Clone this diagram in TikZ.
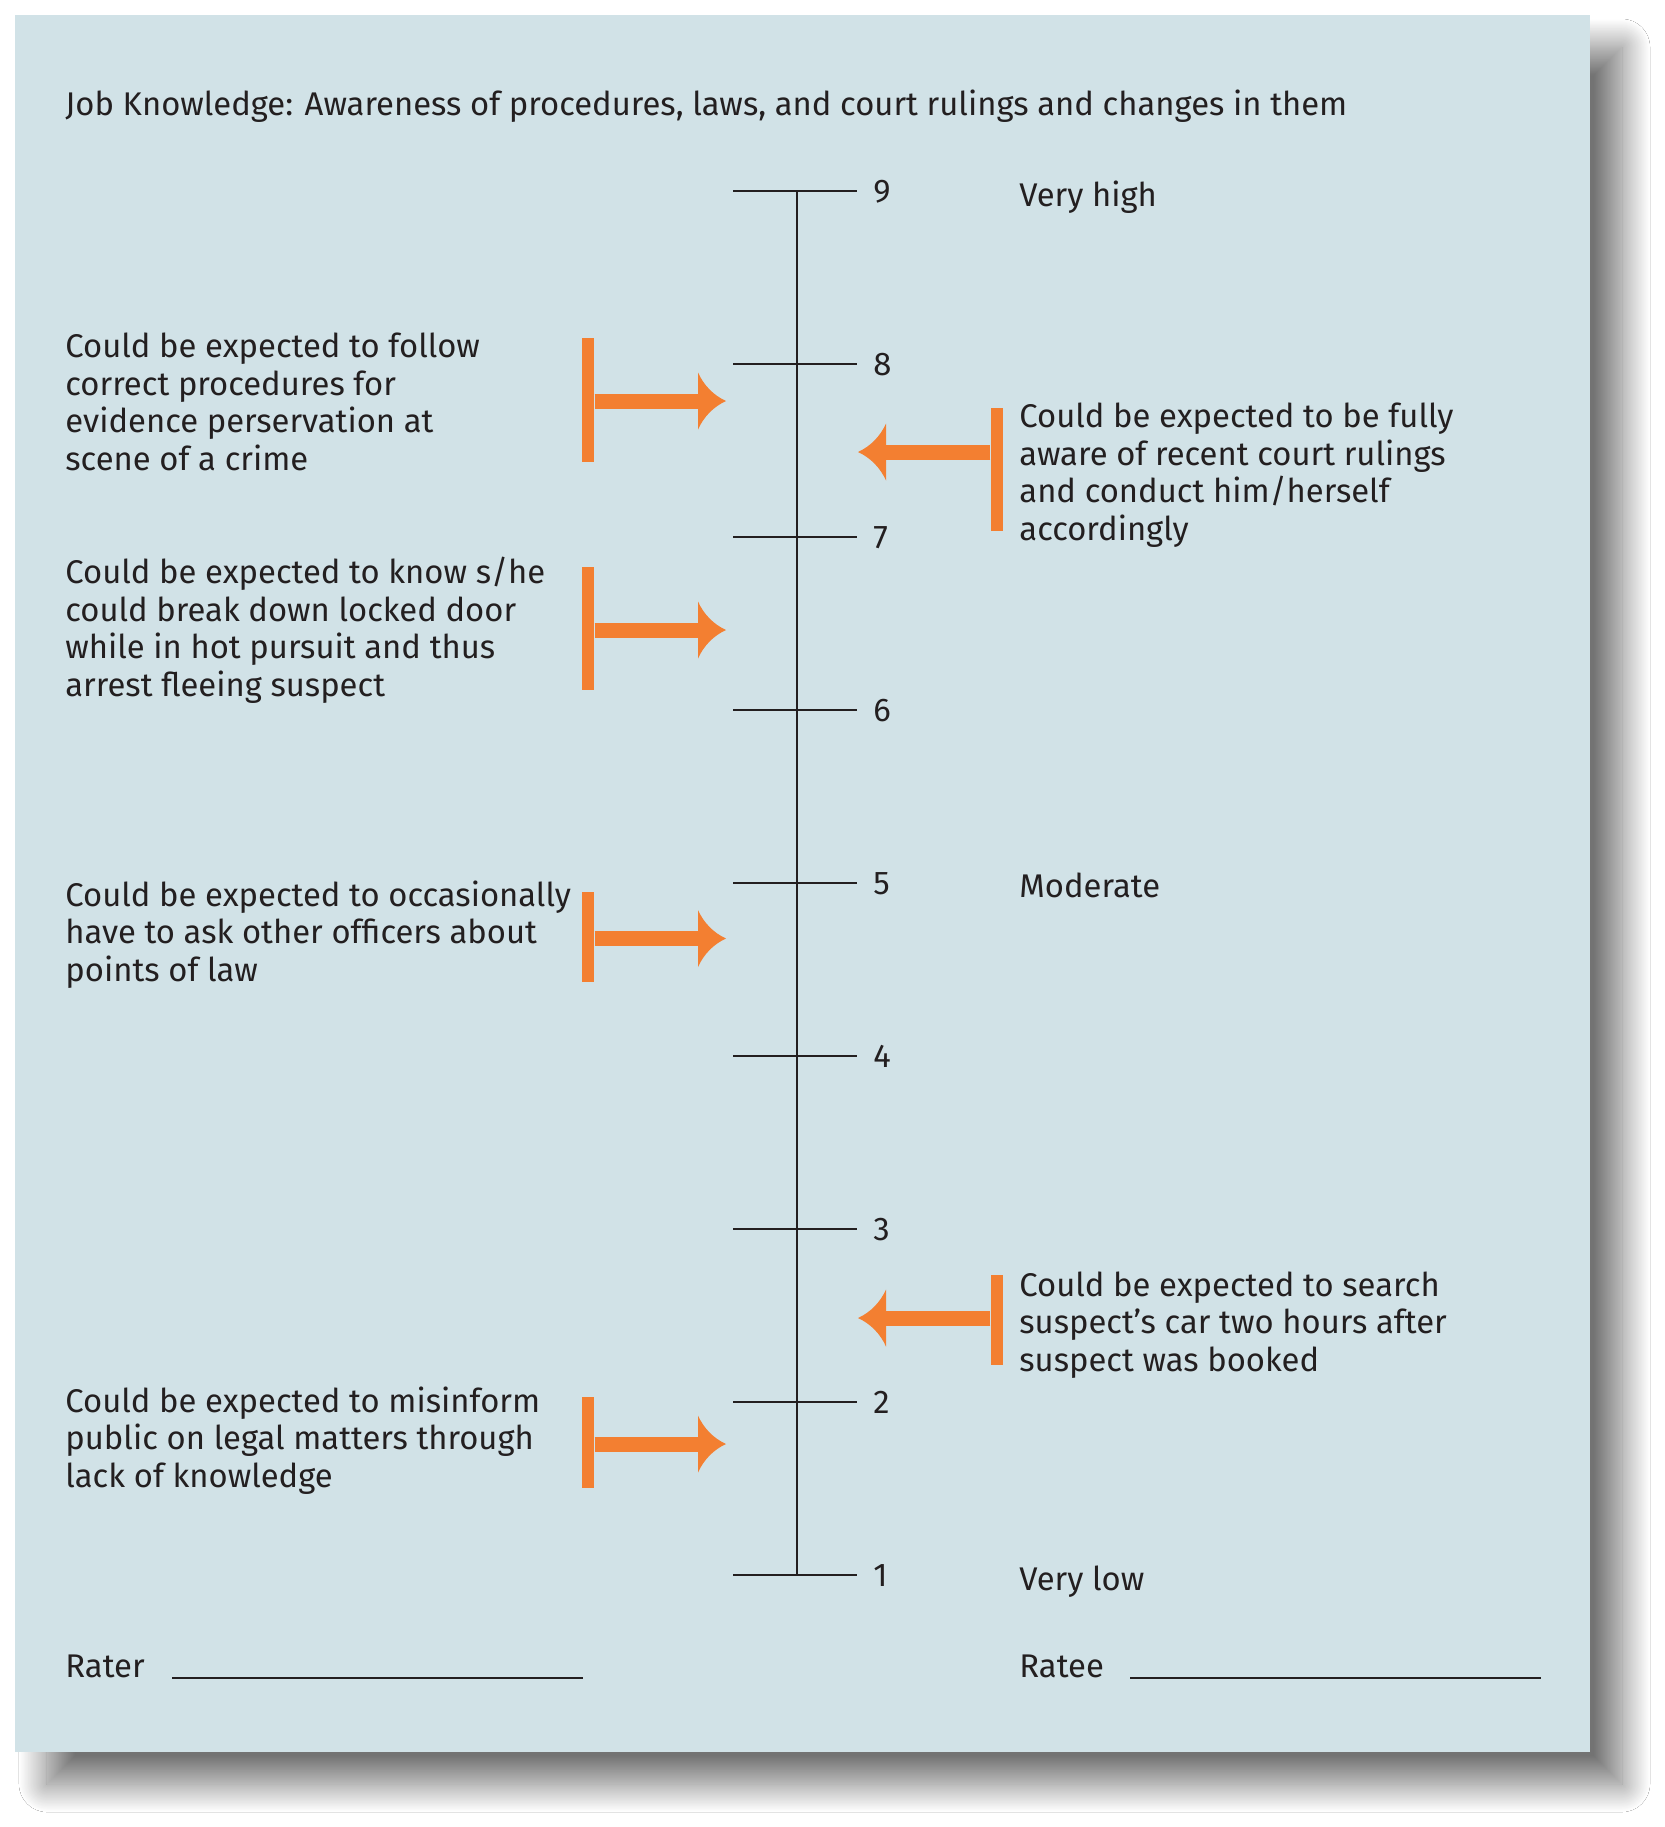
\documentclass[tikz,border=0pt]{standalone}
\usepackage{fontspec}
\setmainfont{Fira Sans}
\usetikzlibrary{arrows.meta}
\usetikzlibrary{shadows.blur}
\definecolor{panelbg}{HTML}{D1E2E7}
\definecolor{markorange}{HTML}{F37F31}
\definecolor{ink}{HTML}{231F20}
% flared arrow head
\pgfdeclarearrow{
  name = Flare,
  parameters = {\the\pgfarrowlength,\the\pgfarrowwidth},
  setup code = {
    \pgfarrowssettipend{0pt}
    \pgfarrowssetlineend{-.5\pgfarrowlength}
    \pgfarrowssetbackend{-\pgfarrowlength}
    \pgfarrowssetvisualbackend{-\pgfarrowlength}
    \pgfarrowshullpoint{0pt}{0pt}
    \pgfarrowsupperhullpoint{-\pgfarrowlength}{.5\pgfarrowwidth}
    \pgfarrowssavethe\pgfarrowlength
    \pgfarrowssavethe\pgfarrowwidth
  },
  drawing code = {
    \pgfpathmoveto{\pgfqpoint{0pt}{0pt}}
    \pgfpathcurveto{\pgfqpoint{-.45\pgfarrowlength}{.1\pgfarrowwidth}}{\pgfqpoint{-.8\pgfarrowlength}{.28\pgfarrowwidth}}{\pgfqpoint{-\pgfarrowlength}{.5\pgfarrowwidth}}
    \pgfpathlineto{\pgfqpoint{-\pgfarrowlength}{-.5\pgfarrowwidth}}
    \pgfpathcurveto{\pgfqpoint{-.8\pgfarrowlength}{-.28\pgfarrowwidth}}{\pgfqpoint{-.45\pgfarrowlength}{-.1\pgfarrowwidth}}{\pgfqpoint{0pt}{0pt}}
    \pgfpathclose
    \pgfusepathqfill
  },
  defaults = {length=14pt, width=28pt}
}
\tikzset{
    bodytext/.style = {anchor=base west, align=left, inner sep=0pt, text=ink, font=\fontsize{16.4pt}{18.7pt}\selectfont},
    scalenum/.style = {anchor=base west, inner sep=0pt, text=ink, font=\fontsize{16.4pt}{18.7pt}\selectfont},
    tickline/.style = {-, line width=1pt, ink},
    signline/.style = {-, line width=1.2pt, ink},
    tbar/.style = {rectangle, fill=markorange, inner sep=0pt, minimum width=6.25pt},
    pointer/.style = {-{Flare[length=14pt,width=28.5pt]}, line width=7.5pt, markorange}
}

\begin{document}
\begin{tikzpicture}[x=0.5pt,y=-0.5pt]
\useasboundingbox[fill=white] (0,0) rectangle (1665,1827);
\fill[panelbg, blur shadow={shadow xshift=16pt, shadow yshift=-16pt, shadow blur radius=14pt, shadow blur steps=40, shadow opacity=55}] (15,15) rectangle (1590,1752);
%
\node[bodytext] at (65,115) (title) {Job Knowledge: Awareness of procedures, laws, and court rulings and changes in them};
%
\coordinate (t9) at (797,191);
\coordinate (t1) at (797,1575);
\draw[tickline] (t9) -- (t1);
\draw[tickline] (733,191) -- (857,191);
\draw[tickline] (733,364) -- (857,364);
\draw[tickline] (733,537) -- (857,537);
\draw[tickline] (733,710) -- (857,710);
\draw[tickline] (733,883) -- (857,883);
\draw[tickline] (733,1056) -- (857,1056);
\draw[tickline] (733,1229) -- (857,1229);
\draw[tickline] (733,1402) -- (857,1402);
\draw[tickline] (733,1575) -- (857,1575);
%
\node[scalenum] at (873,202.5) (n9) {9};
\node[scalenum] at (873,375.5) (n8) {8};
\node[scalenum] at (873,548.5) (n7) {7};
\node[scalenum] at (873,721.5) (n6) {6};
\node[scalenum] at (873,894.5) (n5) {5};
\node[scalenum] at (873,1067.5) (n4) {4};
\node[scalenum] at (873,1240.5) (n3) {3};
\node[scalenum] at (873,1413.5) (n2) {2};
\node[scalenum] at (873,1586.5) (n1) {1};
%
\node[scalenum] at (1019,206) (high) {Very high};
\node[scalenum] at (1019,897) (moderate) {Moderate};
\node[scalenum] at (1019,1590) (low) {Very low};
%
% anchored at the baseline of the last line
\node[bodytext] at (65,470) (d8) {Could be expected to follow\\correct procedures for\\evidence perservation at\\scene of a crime};
\node[bodytext] at (65,696) (d7) {Could be expected to know s/he\\could break down locked door\\while in hot pursuit and thus\\arrest fleeing suspect};
\node[bodytext] at (65,981) (d5) {Could be expected to occasionally\\have to ask other officers about\\points of law};
\node[bodytext] at (65,1487) (d2) {Could be expected to misinform\\public on legal matters through\\lack of knowledge};
\node[bodytext] at (1019,540) (d8r) {Could be expected to be fully\\aware of recent court rulings\\and conduct him/herself\\accordingly};
\node[bodytext] at (1019,1371) (d3r) {Could be expected to search\\suspect’s car two hours after\\suspect was booked};
%
\node[tbar, minimum height=62pt] at (588,400) (b8) {};
\node[tbar, minimum height=61.5pt] at (588,628.5) (b7) {};
\node[tbar, minimum height=45pt] at (588,937) (b5) {};
\node[tbar, minimum height=45.5pt] at (588,1442.5) (b2) {};
\node[tbar, minimum height=61.5pt] at (997,469.5) (b8r) {};
\node[tbar, minimum height=45pt] at (997,1320) (b3r) {};
%
\coordinate (a8) at (726,401);
\coordinate (a7) at (726,630);
\coordinate (a5) at (726,938.5);
\coordinate (a2) at (726,1444);
\coordinate (a8r) at (858,452);
\coordinate (a3r) at (858,1318);
\draw[pointer] (b8.east |- a8) -- (a8);
\draw[pointer] (b7.east |- a7) -- (a7);
\draw[pointer] (b5.east |- a5) -- (a5);
\draw[pointer] (b2.east |- a2) -- (a2);
\draw[pointer] (b8r.west |- a8r) -- (a8r);
\draw[pointer] (b3r.west |- a3r) -- (a3r);
%
\node[bodytext] at (65,1677) (rater) {Rater};
\coordinate (rl1) at (172,1678);
\coordinate (rl2) at (583,1678);
\draw[signline] (rl1) -- (rl2);
\node[bodytext] at (1019,1677) (ratee) {Ratee};
\coordinate (el1) at (1130,1678);
\coordinate (el2) at (1541,1678);
\draw[signline] (el1) -- (el2);
\end{tikzpicture}
\end{document}
